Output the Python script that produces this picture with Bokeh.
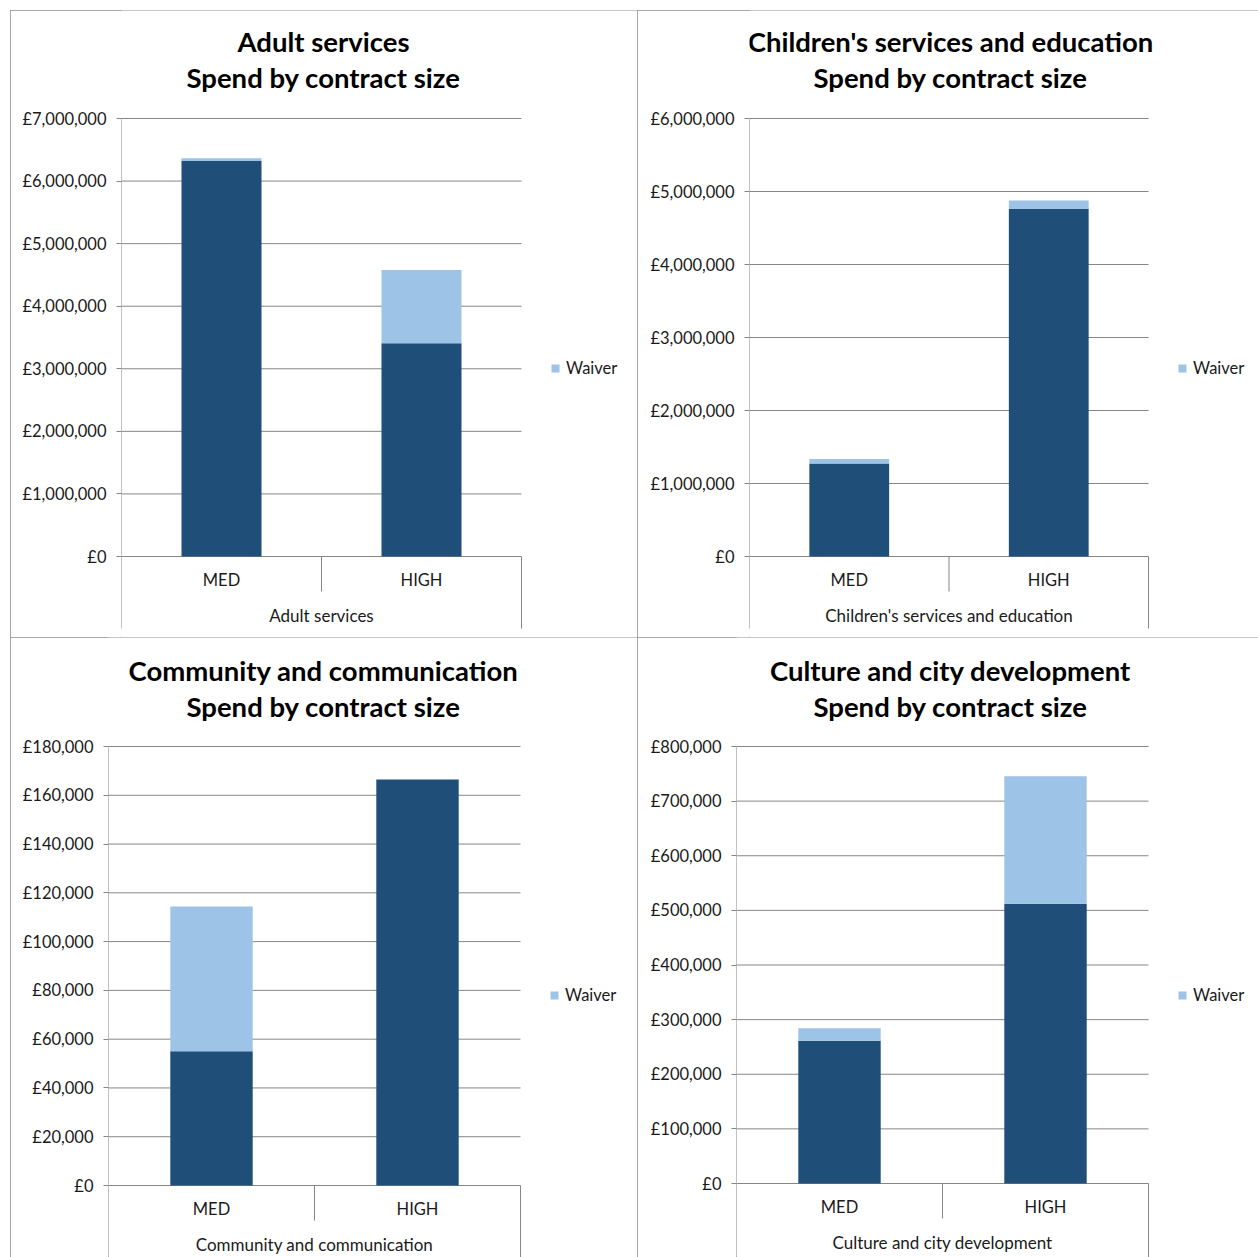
from bokeh.plotting import figure
from bokeh.models import Range1d, FixedTicker, Legend, LegendItem, Label, Spacer
from bokeh.layouts import column, row
from bokeh.embed import file_html
from bokeh.resources import INLINE
from bokeh.core.properties import value

# ---------------- data ----------------
categories = ["MED", "HIGH"]

adult_name = "Adult services"
adult_main = [6320000, 3410000]
adult_waiver = [45000, 1170000]
adult_ticks = [0, 1000000, 2000000, 3000000, 4000000, 5000000, 6000000, 7000000]

children_name = "Children's services and education"
children_main = [1274000, 4760000]
children_waiver = [60000, 117000]
children_ticks = [0, 1000000, 2000000, 3000000, 4000000, 5000000, 6000000]

community_name = "Community and communication"
community_main = [55000, 166500]
community_waiver = [59400, 0]
community_ticks = [0, 20000, 40000, 60000, 80000, 100000, 120000, 140000, 160000, 180000]

culture_name = "Culture and city development"
culture_main = [261400, 512000]
culture_waiver = [22600, 233400]
culture_ticks = [0, 100000, 200000, 300000, 400000, 500000, 600000, 700000, 800000]

subtitle = "Spend by contract size"
legend_label = "Waiver"

# ---------------- style ----------------
FONT = "Lato"
DARK = "#1F4E79"
LIGHT = "#9DC3E6"
GRID = "#868686"
BORDER = "#8C8C8C"
TEXT = "#1a1a1a"


def panel(dept, main, waiver, ticks, fig_w, fig_h, left, right, top, zero, bottom, t1, t2):
    """left/right/top/zero/bottom: pixel geometry of the plot box inside the panel."""
    n = len(categories)
    ymax = ticks[-1]
    ypp = ymax / (zero - top)            # data units per pixel (vertical)
    xpp = n / (right - left)             # data units per pixel (horizontal)
    y_start = -(fig_h - zero) * ypp
    y_end = zero * ypp
    x_end = (fig_w - left) * xpp

    p = figure(width=fig_w, height=fig_h,
               x_range=Range1d(0, x_end), y_range=Range1d(y_start, y_end),
               output_backend="svg", toolbar_location=None,
               x_axis_location=None, y_axis_location="left",
               min_border_left=left, min_border_right=0,
               min_border_top=0, min_border_bottom=0)
    p.outline_line_color = None
    p.background_fill_color = "white"
    p.border_fill_color = "white"
    p.styles = {"outline": f"1px solid {BORDER}", "outline-offset": "-1px"}

    # y axis (ticks + labels); its line is drawn below as a segment
    ax = p.yaxis[0]
    ax.ticker = FixedTicker(ticks=ticks)
    ax.major_label_overrides = {t: f"£{t:,.0f}" for t in ticks}
    ax.axis_line_color = None
    ax.major_tick_line_color = GRID
    ax.major_tick_out = 5
    ax.major_tick_in = 0
    ax.minor_tick_line_color = None
    ax.major_label_standoff = 10
    ax.major_label_text_font = FONT
    ax.major_label_text_font_size = "16.5px"
    ax.major_label_text_color = TEXT

    p.xgrid.grid_line_color = None
    p.ygrid.grid_line_color = None

    # horizontal gridlines across the category span
    p.segment(x0=[0] * len(ticks), y0=ticks, x1=[n] * len(ticks), y1=ticks,
              line_color=GRID, line_width=1)
    # vertical axis line + category separators
    y_bot = -(bottom - zero) * ypp
    sep_x = [0] + [i for i in range(1, n + 1)]
    sep_top = [ymax] + [0] * n
    sep_bot = [y_bot] + [-35 * ypp if i < n else y_bot for i in range(1, n + 1)]
    p.segment(x0=sep_x, y0=sep_top, x1=sep_x, y1=sep_bot, line_color=GRID, line_width=1)

    xs = [i + 0.5 for i in range(n)]
    tops = [m + w for m, w in zip(main, waiver)]
    p.vbar(x=xs, bottom=0, top=main, width=0.4, fill_color=DARK, line_color=None)
    rw = p.vbar(x=xs, bottom=main, top=tops, width=0.4, fill_color=LIGHT, line_color=None)

    # category labels
    p.text(x=xs, y=[-23 * ypp] * n, text=categories, text_align="center",
           text_baseline="middle", text_font=value(FONT), text_font_size="16.5px",
           text_color=TEXT)
    p.text(x=[n / 2], y=[-59 * ypp], text=[dept], text_align="center",
           text_baseline="middle", text_font=value(FONT), text_font_size="17px",
           text_color=TEXT)

    # titles
    cx = (313 - left) * xpp
    for txt, py in [(dept, t1), (subtitle, t2)]:
        p.add_layout(Label(x=cx, y=(zero - py) * ypp, text=txt, text_align="center",
                           text_baseline="middle", text_font=FONT,
                           text_font_size="27.5px", text_font_style="bold",
                           text_color="#000000"))

    # legend
    leg_h = 20
    legend = Legend(items=[LegendItem(label=legend_label, renderers=[rw])],
                    location=((right - left) + 29, (fig_h - 358) - leg_h // 2),
                    padding=0, margin=0, spacing=0,
                    border_line_color=None, background_fill_alpha=0,
                    glyph_width=10, glyph_height=10, label_standoff=6,
                    label_height=leg_h,
                    label_text_font=FONT, label_text_font_size="16.5px",
                    label_text_color=TEXT)
    p.add_layout(legend)
    return p


p1 = panel(adult_name, adult_main, adult_waiver, adult_ticks, 627, 627, 111, 511, 108, 546, 618, 31, 67)
p2 = panel(children_name, children_main, children_waiver, children_ticks, 621, 627, 112, 511, 108, 546, 618, 31, 67)
p3 = panel(community_name, community_main, community_waiver, community_ticks, 627, 620, 98, 510, 109, 548, 620, 33, 69)
p4 = panel(culture_name, culture_main, culture_waiver, culture_ticks, 621, 620, 99, 511, 109, 546, 620, 33, 69)

layout = column(Spacer(width=1258, height=10),
                row(Spacer(width=10, height=627), p1, p2),
                row(Spacer(width=10, height=620), p3, p4))
open("out.html", "w").write(file_html(layout, INLINE))
